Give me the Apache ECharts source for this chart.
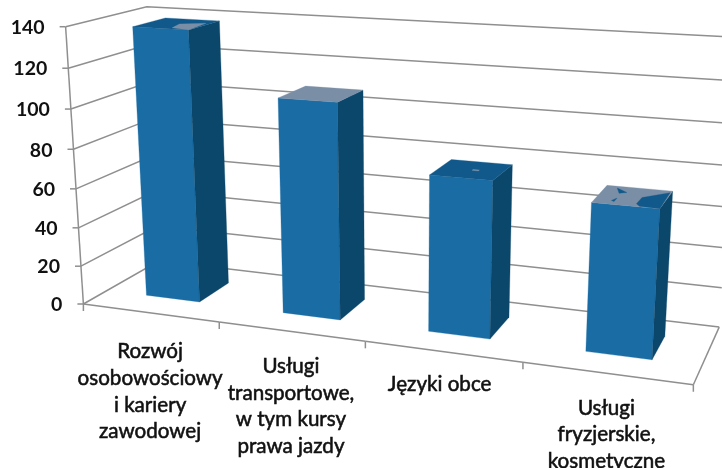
<!DOCTYPE html>
<html><head><meta charset="utf-8">
<style>html,body{margin:0;padding:0;background:#fff}#c{width:722px;height:468px;filter:blur(0.45px)}</style>
<script src="https://cdn.jsdelivr.net/npm/echarts@6/dist/echarts.min.js"></script>
</head><body><div id="c"></div>
<script>
const categories = ['Rozwój\nosobowościowy\ni kariery\nzawodowej','Usługi\ntransportowe,\nw tym kursy\nprawa jazdy','Języki obce','Usługi\nfryzjerskie,\nkosmetyczne'];
const values = [138, 108, 77, 71];
const yTicks = [0,20,40,60,80,100,120,140];
const yMax = 140;

// Camera: least-squares fit of a projective map (u,v,w)->(px,py)
const refs = [
 [0,0,0,83,304],[1,0,0,694,384],[0,0,1,160,261],[1,0,1,719,327],
 [0,1,0,66,27],[0,1,1,146,6],[1,1,1,738,38],
 [.25,0,0,218,322],[.5,0,0,365,342],[.75,0,0,523,362],
 [0,4/7,0,74,149],[0,2/7,0,79,228]
];
function fit(){
  const n=11, A=Array.from({length:n},()=>new Array(n+1).fill(0));
  const add=(r,b)=>{for(let i=0;i<n;i++){for(let j=0;j<n;j++)A[i][j]+=r[i]*r[j];A[i][n]+=r[i]*b;}};
  refs.forEach(([u,v,w,X,Y])=>{
    const x=X/700,y=Y/700;
    add([u,v,w,1,0,0,0,0,-x*u,-x*v,-x*w],x);
    add([0,0,0,0,u,v,w,1,-y*u,-y*v,-y*w],y);
  });
  for(let i=0;i<n;i++){
    let p=i;for(let k=i+1;k<n;k++)if(Math.abs(A[k][i])>Math.abs(A[p][i]))p=k;
    [A[i],A[p]]=[A[p],A[i]];
    for(let k=0;k<n;k++){if(k===i)continue;const f=A[k][i]/A[i][i];for(let j=i;j<=n;j++)A[k][j]-=f*A[i][j];}
  }
  return A.map((r,i)=>r[n]/r[i]);
}
const M=fit();
function proj(u,v,w){
  const d=M[8]*u+M[9]*v+M[10]*w+1;
  return [700*(M[0]*u+M[1]*v+M[2]*w+M[3])/d,700*(M[4]*u+M[5]*v+M[6]*w+M[7])/d];
}
const W=722,H=468;
const toV=(api,val)=>(H-api.coord([0,val])[1])/H;
const toU=(api,i,off)=>(api.coord([i,0])[0]+off*api.size([1,0])[0])/W;

const FONT='Lato, "Open Sans", sans-serif';
const LINE='#8f8f8f';
const line=(pts,w)=>({type:'polyline',shape:{points:pts},style:{stroke:LINE,lineWidth:w||1.5,fill:null},silent:true});
const BAR_HALF=.2, W0=.3, W1=.72;
const barShift=[0,.008,.006,.008];
const COL={front:'#1a6ca4',side:'#0b466b',dark:'#11598a',gray:'#7a8ea6'};
const topBase=[COL.dark,COL.gray,COL.dark,COL.gray];
const patches=[
 [{c:COL.gray,p:[[.55,.5],[.92,.3],[1,1],[.65,.9]]}],
 [],
 [{c:'#8aa0b5',p:[[.52,.48],[.62,.48],[.62,.53],[.52,.53]]}],
 [{c:COL.dark,p:[[.63,.85],[.64,.5],[.98,.1],[1,1],[.7,.97]]},
  {c:COL.dark,p:[[.18,.1],[.37,.3],[.27,.38]]},
  {c:COL.dark,p:[[.3,.65],[.3,.85],[.25,.8]]}]
];

const option={
 animation:false,
 grid:{left:0,right:0,top:0,bottom:0},
 xAxis:{type:'category',data:categories,show:false},
 yAxis:{type:'value',min:0,max:yMax,interval:20,show:false},
 series:[
 {type:'custom',coordinateSystem:'cartesian2d',clip:false,silent:true,z:1,
  data:yTicks.map(t=>[0,t]),
  renderItem(p,api){
    const val=api.value(1), v=toV(api,val);
    const a=proj(0,v,0),b=proj(0,v,1),c=proj(1,v,1);
    const kids=[
      line([a,b,c]),
      line([[a[0]-6,a[1]],a]),
      {type:'text',style:{text:String(val),x:a[0]-21,y:a[1]+1,textAlign:'right',textVerticalAlign:'middle',font:'bold 19.5px '+FONT,fill:'#111'},silent:true}
    ];
    return {type:'group',children:kids};
  }},
 {type:'custom',coordinateSystem:'cartesian2d',clip:false,silent:true,z:2,
  data:categories.map((c,i)=>[i,values[i]]),
  renderItem(p,api){
    const i=api.value(0);
    const kids=[];
    const u0=toU(api,i,-.5), u1=toU(api,i,.5);
    const f0=proj(u0,0,0), f1=proj(u1,0,0);
    kids.push(line([f0,f1]));
    kids.push(line([f1,[f1[0],f1[1]+7]]));
    if(i===0) kids.push(line([f0,[f0[0],f0[1]+7]]));
    if(i===categories.length-1){ kids.push(line([f1,proj(1,0,1)])); kids.push(line([proj(0,1,0),proj(0,0,0)])); }
    return {type:'group',children:kids};
  }},
 {type:'custom',coordinateSystem:'cartesian2d',clip:false,silent:true,z:3,
  data:categories.map((c,i)=>[i,values[i]]),
  renderItem(p,api){
    const i=api.value(0), v=toV(api,api.value(1));
    const a=toU(api,i,barShift[i]-BAR_HALF), b=toU(api,i,barShift[i]+BAR_HALF);
    const poly=(pts,c)=>({type:'polygon',shape:{points:pts},style:{fill:c,stroke:c,lineWidth:.3},silent:true});
    const kids=[
      poly([proj(a,0,W0),proj(b,0,W0),proj(b,v,W0),proj(a,v,W0)],COL.front),
      poly([proj(b,0,W0),proj(b,0,W1),proj(b,v,W1),proj(b,v,W0)],COL.side),
      poly([proj(a,v,W0),proj(b,v,W0),proj(b,v,W1),proj(a,v,W1)],topBase[i])
    ];
    patches[i].forEach(t=>kids.push(poly(t.p.map(q=>proj(a+(b-a)*q[0],v,W1+(W0-W1)*q[1])),t.c)));
    return {type:'group',children:kids};
  }},
 {type:'custom',coordinateSystem:'cartesian2d',clip:false,silent:true,z:4,
  data:categories.map((c,i)=>[i,values[i]]),
  renderItem(p,api){
    const i=api.value(0);
    const f=proj(toU(api,i,0),0,0);
    const gap=[39,35,33,35][i];
    const nudge=[0,0,-3,0][i];
    const lines=categories[i].split('\n');
    return {type:'group',children:lines.map((s,k)=>({type:'text',silent:true,
      style:{text:s,x:f[0]+nudge,y:f[1]+gap+k*26.6,textAlign:'center',textVerticalAlign:'middle',font:'20.6px '+FONT,fill:'#111',stroke:'#111',lineWidth:.55}}))};
  }}
 ]
};
echarts.init(document.getElementById('c')).setOption(option);
</script></body></html>
